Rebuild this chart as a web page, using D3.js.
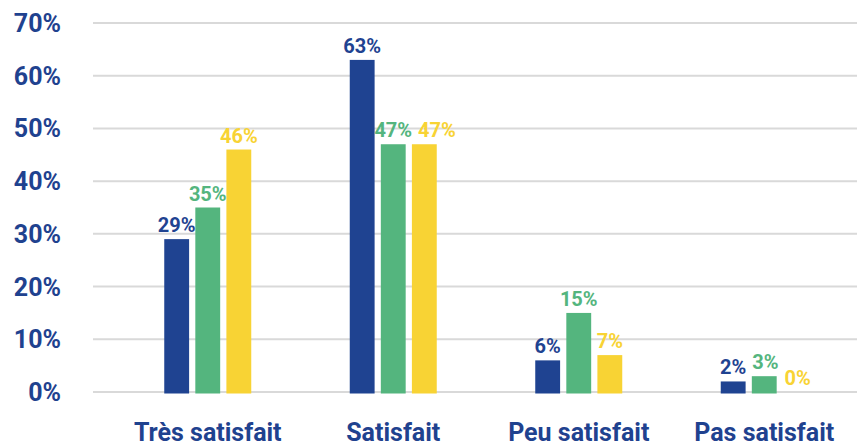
<!DOCTYPE html>
<html>
<head>
<meta charset="utf-8">
<script src="https://d3js.org/d3.v7.min.js"></script>
<style>
  body { margin: 0; background: #fff; }
  text { font-family: Roboto, "Liberation Sans", sans-serif; font-weight: bold; }
</style>
</head>
<body>
<svg id="chart" width="857" height="445"></svg>
<script>
// categories and series
const categories = ["Très satisfait", "Satisfait", "Peu satisfait", "Pas satisfait"]
const seriesNames = ["s1", "s2", "s3"]
const seriesBlue = [29, 63, 6, 2]
const seriesGreen = [35, 47, 15, 3]
const seriesYellow = [46, 47, 7, 0]
const yTicks = [0, 10, 20, 30, 40, 50, 60, 70]

const colors = ["#1f4391", "#54b57e", "#f8d334"]
const allSeries = [seriesBlue, seriesGreen, seriesYellow]

const svg = d3.select("#chart")

const y = d3.scaleLinear().domain([0, 70]).range([392, 23])
const x = d3.scaleBand().domain(categories).range([115, 857]).paddingInner(0).paddingOuter(0)
const xInner = d3.scaleBand().domain(seriesNames).range([0, 87]).paddingInner(0.2)

// gridlines
svg.append("g")
    .selectAll("line")
    .data(yTicks)
    .join("line")
    .attr("x1", 93)
    .attr("x2", 857)
    .attr("y1", d => y(d))
    .attr("y2", d => y(d))
    .attr("stroke", "#d9d9d9")
    .attr("stroke-width", 2)

// y axis labels
svg.append("g")
    .selectAll("text")
    .data(yTicks)
    .join("text")
    .attr("x", 61)
    .attr("y", d => y(d) + 9)
    .attr("text-anchor", "end")
    .attr("fill", "#1f428f")
    .style("font-size", "25px")
    .text(d => d + "%")

// bars
const groups = svg.append("g")
    .selectAll("g")
    .data(categories)
    .join("g")
    .attr("transform", d => `translate(${x(d) + x.bandwidth() / 2 - 43.5},0)`)

groups.each(function (cat, ci) {
    const g = d3.select(this)
    const rows = allSeries.map((s, si) => ({ name: seriesNames[si], value: s[ci], color: colors[si] }))
    g.selectAll("rect")
        .data(rows)
        .join("rect")
        .attr("x", d => xInner(d.name))
        .attr("width", xInner.bandwidth())
        .attr("y", d => y(d.value))
        .attr("height", d => y(0) - y(d.value) + (d.value > 0 ? 1.5 : 0))
        .attr("fill", d => d.color)
    const labels = g.selectAll("text")
        .data(rows)
        .join("text")
        .attr("x", d => xInner(d.name) + xInner.bandwidth() / 2)
        .attr("y", d => y(d.value) - 7)
        .attr("text-anchor", "middle")
        .attr("fill", d => d.color)
        .style("font-size", "20px")
        .text(d => d.value + "%")

    // push a label to the right when it runs into the one before it
    let prevRight = -Infinity, prevTop = 0
    labels.each(function (d) {
        const t = d3.select(this)
        const w = this.getComputedTextLength()
        let cx = +t.attr("x")
        const ty = +t.attr("y")
        if (Math.abs(ty - prevTop) < 20 && cx - w / 2 < prevRight + 6) {
            cx = prevRight + 6 + w / 2
            t.attr("x", cx)
        }
        prevRight = cx + w / 2
        prevTop = ty
    })
})

// category labels
svg.append("g")
    .selectAll("text")
    .data(categories)
    .join("text")
    .attr("x", d => x(d) + x.bandwidth() / 2)
    .attr("y", 441)
    .attr("text-anchor", "middle")
    .attr("fill", "#1f428f")
    .style("font-size", "25px")
    .text(d => d)
</script>
</body>
</html>
